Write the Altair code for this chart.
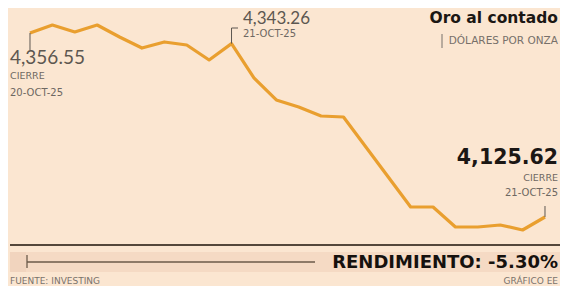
import altair as alt
import pandas as pd

# Spot gold, intraday readings (USD per ounce)
values = [4356.55, 4366.6, 4357.8, 4366.6, 4351.5, 4337.7, 4345.3, 4341.5,
          4322.7, 4343.26, 4300.1, 4272.5, 4263.7, 4252.4, 4251.1, 4213.5,
          4175.8, 4138.2, 4138.2, 4113.1, 4113.1, 4115.6, 4109.3, 4125.62]
idx = list(range(len(values)))

first_label = ["4,356.55", "CIERRE", "20-OCT-25"]
peak_label = ["4,343.26", "21-OCT-25"]
last_label = ["4,125.62", "CIERRE", "21-OCT-25"]
title_txt = "Oro al contado"
subtitle_txt = "DÓLARES POR ONZA"
rend_txt = "RENDIMIENTO: -5.30%"
source_txt = "FUENTE: INVESTING"
credit_txt = "GRÁFICO EE"

df = pd.DataFrame({"i": idx, "v": values})

W, H = 552, 278
LIGHT = "Lato"
SMALL = "DejaVu Sans"
BOLD = "DejaVu Sans"
GRAY = "#5d5750"
SGRAY = "#6e6862"
LINE = "#E99F2F"

xs = alt.Scale(domain=[-0.9825, 23.67], nice=False, zero=False)
ys = alt.Scale(domain=[4039.02, 4387.93], nice=False, zero=False)
X = alt.X("i:Q", scale=xs, axis=None)
Y = alt.Y("v:Q", scale=ys, axis=None)

base = alt.Chart(df)

line = base.mark_line(color=LINE, strokeWidth=3.2, strokeJoin="round").encode(x=X, y=Y)

# leader lines tied to data points
first_pt = alt.Chart(df.iloc[[0]])
peak_pt = alt.Chart(df.iloc[[9]])
last_pt = alt.Chart(df.iloc[[23]])

lead1 = first_pt.mark_rule(color=GRAY, strokeWidth=1).encode(x=X, y=Y, y2=alt.value(42))
lead2 = peak_pt.mark_rule(color=GRAY, strokeWidth=1).encode(x=X, y=Y, y2=alt.value(20))
lead2h = peak_pt.mark_rule(color=GRAY, strokeWidth=1).encode(x=X, x2=alt.value(230), y=alt.value(20))
lead3 = last_pt.mark_rule(color=GRAY, strokeWidth=1).encode(x=X, y=Y, y2=alt.value(198))


def txt(t, x, y, size, align="left", color=GRAY, weight="normal", font=LIGHT, baseline="middle"):
    return alt.Chart(pd.DataFrame({"t": [t]})).mark_text(
        align=align, baseline=baseline, font=font, fontSize=size,
        fontWeight=weight, color=color
    ).encode(text="t:N", x=alt.value(x), y=alt.value(y))


texts = [
    txt(title_txt, 550, 10, 15.5, "right", "#1b1714", "bold", BOLD),
    txt(subtitle_txt, 550, 33, 10.5, "right", "#77706a", font=SMALL),
    txt(first_label[0], 2, 50, 19, "left", GRAY),
    txt(first_label[1], 2, 68, 9.5, "left", SGRAY, font=SMALL),
    txt(first_label[2], 2, 85, 10, "left", SGRAY, font=SMALL),
    txt(peak_label[0], 235, 10.5, 17, "left", GRAY),
    txt(peak_label[1], 235, 26, 10, "left", SGRAY, font=SMALL),
    txt(last_label[0], 550, 150, 20.5, "right", "#1b1714", "bold", BOLD),
    txt(last_label[1], 550, 170, 9.5, "right", SGRAY, font=SMALL),
    txt(last_label[2], 550, 185, 10, "right", SGRAY, font=SMALL),
    txt(rend_txt, 550, 255, 18, "right", "#15110e", "bold", BOLD),
    txt(source_txt, 2, 276, 9, "left", "#7a736c", font=SMALL, baseline="alphabetic"),
    txt(credit_txt, 550, 276, 9, "right", "#7a736c", font=SMALL, baseline="alphabetic"),
]

sub_bar = alt.Chart(pd.DataFrame({"a": [0]})).mark_rule(color="#77706a", strokeWidth=1).encode(
    x=alt.value(434), y=alt.value(26), y2=alt.value(40))

band = alt.Chart(pd.DataFrame({"a": [0]})).mark_rect(color="#F5DAC4").encode(
    x=alt.value(2), x2=alt.value(552), y=alt.value(244), y2=alt.value(264))
band_l = alt.Chart(pd.DataFrame({"a": [0]})).mark_rect(color="#F1D4BE").encode(
    x=alt.value(2), x2=alt.value(18), y=alt.value(244), y2=alt.value(264))
top_rule = alt.Chart(pd.DataFrame({"a": [0]})).mark_rule(color="#54473b", strokeWidth=2).encode(
    x=alt.value(2), x2=alt.value(552), y=alt.value(237))
thin_rule = alt.Chart(pd.DataFrame({"a": [0]})).mark_rule(color="#6b5a4a", strokeWidth=1.3).encode(
    x=alt.value(19), x2=alt.value(307), y=alt.value(254))
thin_tick = alt.Chart(pd.DataFrame({"a": [0]})).mark_rule(color="#6b5a4a", strokeWidth=1.3).encode(
    x=alt.value(19), y=alt.value(247), y2=alt.value(260))

chart = alt.layer(
    band, band_l, top_rule, thin_rule, thin_tick,
    line, lead1, lead2, lead2h, lead3, sub_bar, *texts
).properties(
    width=W, height=H, background="#FBE6D1", padding=0,
    autosize=alt.AutoSizeParams(type="none")
).configure_view(stroke=None)

chart.save("out.html", embed_options={"renderer": "svg", "actions": False})
